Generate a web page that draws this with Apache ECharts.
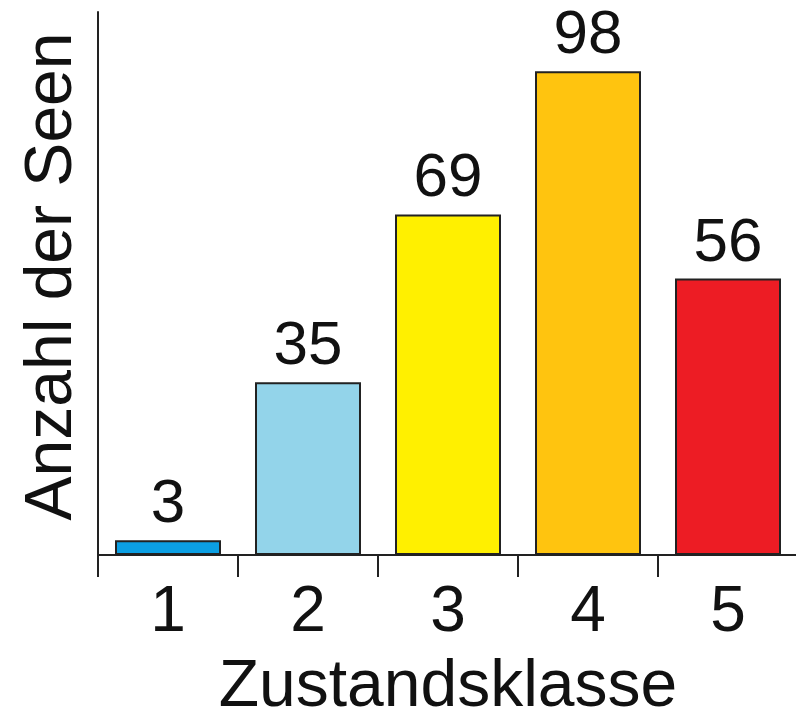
<!DOCTYPE html>
<html>
<head>
<meta charset="utf-8">
<script src="https://cdn.jsdelivr.net/npm/echarts@6/dist/echarts.min.js"></script>
<style>
	html,body{margin:0;padding:0;background:#fff;}
	#seen{width:796px;height:721px;}
</style>
</head>
<body>
<div id="seen"></div>
<script>
var klassen = ['1','2','3','4','5']
var anzahl = [3,35,69,98,56]
var farben = ['#0b9fe3','#93d4ea','#fff000','#ffc40f','#ed1c24']

var seen = echarts.init(document.getElementById('seen'));
var daten = []
for(var i=0;i<anzahl.length;i++){
	daten.push({value:anzahl[i],itemStyle:{color:farben[i]}})
}
var schrift = 'Liberation Sans'

option = {
	animation:false,
	grid:{
		left:98,
		right:-2,
		top:12,
		bottom:166,
		outerBoundsMode:'none'
	},
	xAxis:[
		{
			type:'category',
			data:klassen,
			name:'Zustandsklasse',
			nameLocation:'middle',
			nameGap:100,
			nameTextStyle:{
				fontFamily:schrift,
				fontSize:66,
				color:'#111'
			},
			axisLine:{lineStyle:{color:'#222',width:2}},
			axisTick:{
				show:true,
				length:22,
				lineStyle:{color:'#222',width:2}
			},
			axisLabel:{
				fontFamily:schrift,
				fontSize:64,
				color:'#111',
				margin:26
			}
		}
	],
	yAxis:[
		{
			type:'value',
			min:0,
			max:110,
			name:'Anzahl der Seen',
			nameLocation:'middle',
			nameGap:12,
			nameTextStyle:{
				fontFamily:schrift,
				fontSize:66,
				color:'#111',
				padding:[0,0,0,14]
			},
			axisLine:{show:true,lineStyle:{color:'#222',width:2}},
			axisTick:{show:false},
			axisLabel:{show:false},
			splitLine:{show:false}
		}
	],
	series:[
		{
			type:'bar',
			barWidth:106,
			data:daten,
			itemStyle:{
				borderColor:'#222',
				borderWidth:2
			},
			label:{
				show:true,
				position:'top',
				distance:4,
				fontFamily:schrift,
				fontSize:62,
				color:'#111'
			}
		}
	]
};
seen.setOption(option);
</script>
</body>
</html>
